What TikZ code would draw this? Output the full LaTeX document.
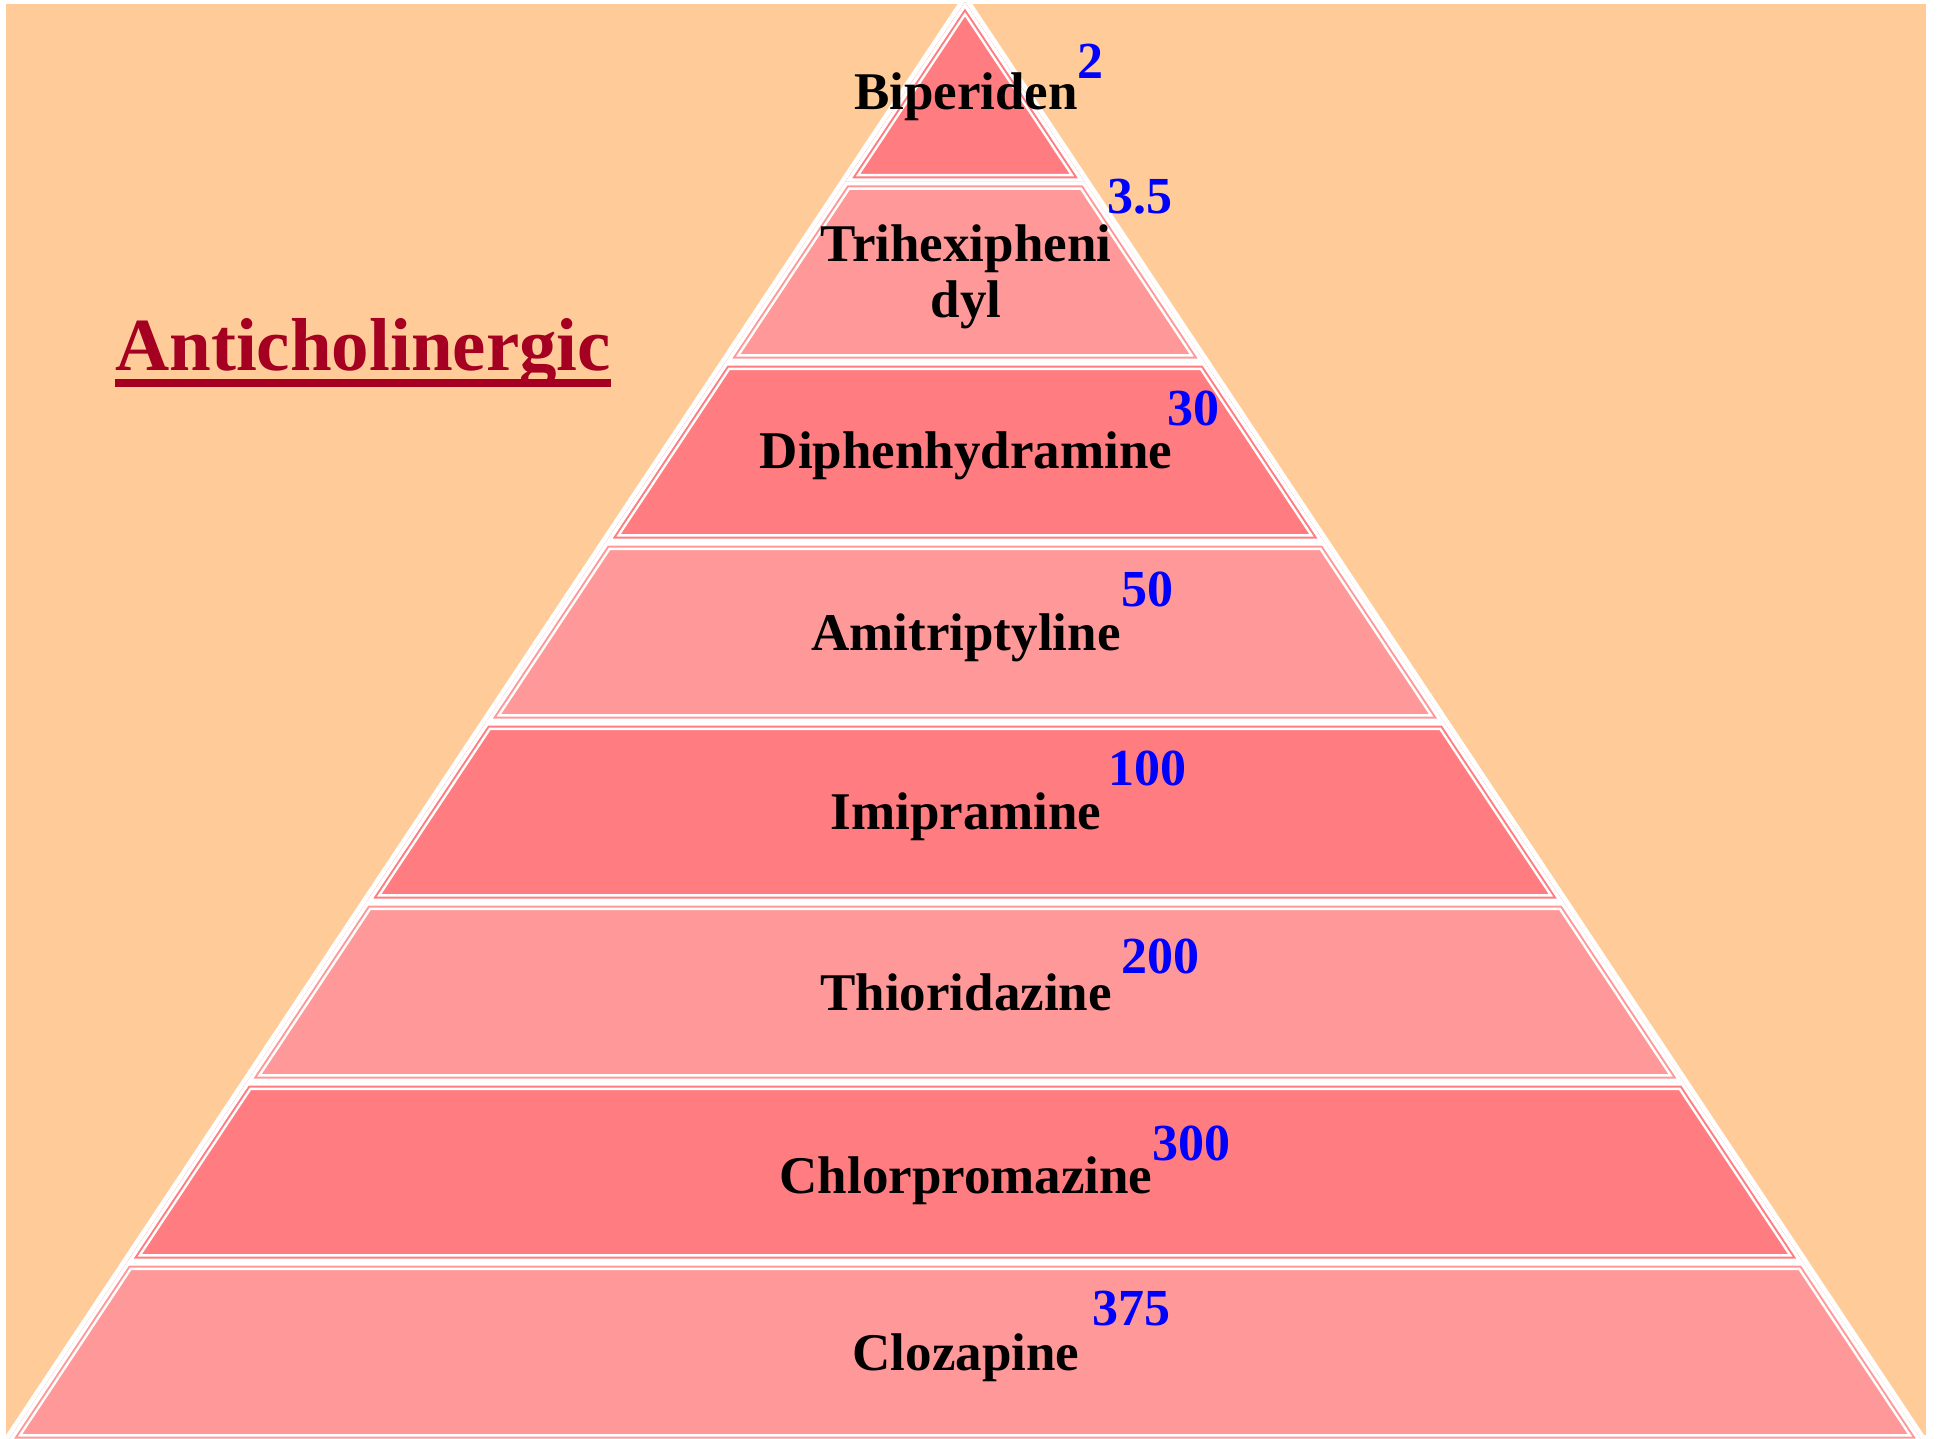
\documentclass[tikz,border=0pt]{standalone}
\usepackage{fontspec}
\setmainfont{Liberation Serif}
\usepackage{tikz}
\usetikzlibrary{positioning}
\definecolor{peach}{HTML}{FFCC99}
\definecolor{darkpink}{HTML}{FF7C80}
\definecolor{lightpink}{HTML}{FF9999}
\definecolor{titlered}{HTML}{A50021}
% Subrayado grueso bajo el titulo
\newsavebox{\titlebox}
\newcommand{\subrayado}[1]{\sbox{\titlebox}{#1}\rlap{\rule[-17pt]{\wd\titlebox}{7.5pt}}\usebox{\titlebox}}
\tikzset{
    box_drug/.style={inner sep=0pt, anchor=base, align=center, font=\fontsize{53}{55}\selectfont\bfseries},
    box_value/.style={inner sep=0pt, anchor=base west, text=blue, font=\fontsize{52}{55}\selectfont\bfseries},
    box_title/.style={inner sep=0pt, anchor=base west, text=titlered, font=\fontsize{75}{80}\selectfont\bfseries}
}
\begin{document}
\begin{tikzpicture}[
        x=1pt, y=-1pt,
        % Borde blanco exterior de la piramide
        borde/.style={draw=white, line width=10pt, line join=round},
        % Lineas interiores de cada capa
        linea_ext/.style={draw=white, line width=16pt, line join=round},
        linea_med/.style={line width=11pt, line join=round},
        linea_int/.style={draw=white, line width=7pt, line join=round}
    ]

    \useasboundingbox (0,0) rectangle (1938,1439);

    % 1. Fondo
    \fill[peach] (6,4) rectangle (1926,1435);
    \path[borde] (965,2) -- (1922.6,1442) -- (7.4,1442) -- cycle;

    % 2. Capas de la piramide
    \foreach \i/\capa in {0/darkpink, 1/lightpink, 2/darkpink, 3/lightpink,
                          4/darkpink, 5/lightpink, 6/darkpink, 7/lightpink} {
        \pgfmathsetmacro\yt{2+180*\i}
        \pgfmathsetmacro\yb{\yt+180}
        \pgfmathsetmacro\ht{119.7*\i}
        \pgfmathsetmacro\hb{\ht+119.7}
        \def\trap{(965-\ht,\yt) -- (965+\ht,\yt) -- (965+\hb,\yb) -- (965-\hb,\yb) -- cycle}
        \begin{scope}
            \clip \trap;
            \fill[\capa] \trap;
            \path[linea_ext] \trap;
            \path[linea_med, draw=\capa] \trap;
            \path[linea_int] \trap;
        \end{scope}
    }

    % 3. Titulo
    \node[box_title] (titulo) at (115,370) {\subrayado{Anticholinergic}};

    % 4. Farmacos y valores (la base de un texto de dos lineas es la ultima linea)
    \foreach \nombre/\yn/\valor/\xv/\yv [count=\k] in {
            Biperiden/110/2/1077/79,
            {Trihexipheni\\dyl}/317/3.5/1107/214,
            Diphenhydramine/468/30/1167/425,
            Amitriptyline/650/50/1121/606,
            Imipramine/829/100/1108/785,
            Thioridazine/1010/200/1121/973,
            Chlorpromazine/1193/300/1152/1160,
            Clozapine/1370/375/1092/1325} {
        \node[box_drug] (farmaco\k) at (966,\yn) {\nombre};
        \node[box_value] (valor\k) at (\xv,\yv) {\valor};
    }

\end{tikzpicture}
\end{document}
